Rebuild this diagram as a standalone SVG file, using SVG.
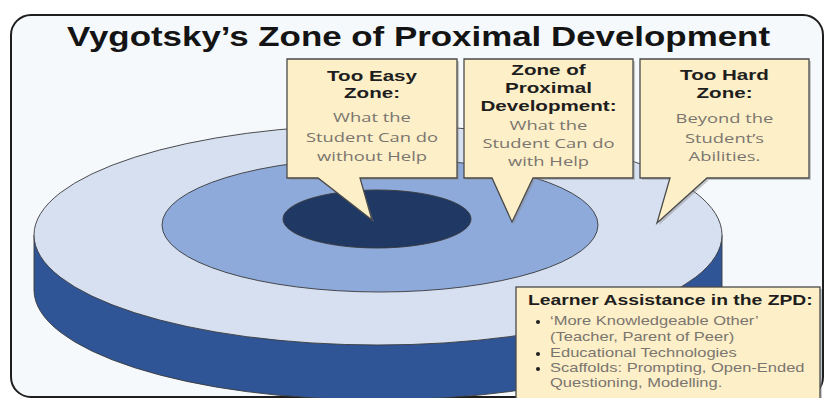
<svg xmlns="http://www.w3.org/2000/svg" width="826" height="398" viewBox="0 0 826 398">
<defs>
<style>
.frame{fill:#f5f9fc;stroke:#1e1e1e;stroke-width:2}
.edge{stroke:#3a3a3a;stroke-width:0.9}
.call{fill:#fdefc7;stroke:#4a4a4a;stroke-width:1.3;stroke-linejoin:miter}
.shadow{fill:#8a8a8a;opacity:0.45}
.ttl{font-family:"Liberation Sans",Arial,sans-serif;font-weight:bold;font-size:28px;fill:#141414}
.hd{font-family:"Liberation Sans",Arial,sans-serif;font-weight:bold;font-size:14.5px;fill:#1e1e1e;text-anchor:middle}
.bd{font-family:"Open Sans","Liberation Sans",sans-serif;font-size:13.5px;fill:#7a7570;text-anchor:middle}
.bhd{font-family:"Liberation Sans",Arial,sans-serif;font-weight:bold;font-size:14px;fill:#1e1e1e}
.bb{font-family:"Liberation Sans",Arial,sans-serif;font-size:12.5px;fill:#7a7570}
</style>
</defs>
<rect class="frame" x="11" y="15" width="812" height="382" rx="20"/>
<g id="disk">
<path class="edge" fill="#2f5597" d="M34 235 L34 290 A344 110 0 0 0 722 290 L722 235 Z"/>
<ellipse id="outer-zone" class="edge" fill="#d7e0f1" cx="378" cy="235" rx="344" ry="110"/>
<ellipse id="middle-zone" class="edge" fill="#8eaadb" cx="380" cy="225" rx="218" ry="67"/>
<ellipse id="inner-zone" class="edge" fill="#1f3864" cx="377" cy="219" rx="94" ry="29"/>
</g>
<g id="callout-easy">
<path class="shadow" d="M289 61 H459 V180 H360 L374 222 L320 180 H289 Z"/>
<path class="call" d="M287 59 H457 V178 H360 L372 220 L318 178 H287 Z"/>
<g transform="translate(372 0) scale(1.42 1)">
<text class="hd" x="0" y="81">Too Easy</text>
<text class="hd" x="0" y="98">Zone:</text>
</g>
<g transform="translate(372 0) scale(1.36 1)">
<text class="bd" x="0" y="122">What the</text>
<text class="bd" x="0" y="142">Student Can do</text>
<text class="bd" x="0" y="161">without Help</text>
</g>
</g>
<g id="callout-zpd">
<path class="shadow" d="M466 61 H635 V180 H535 L514 224 L494 180 H466 Z"/>
<path class="call" d="M464 59 H633 V178 H533 L512 222 L492 178 H464 Z"/>
<g transform="translate(548.5 0) scale(1.42 1)">
<text class="hd" x="0" y="75">Zone of</text>
<text class="hd" x="0" y="93">Proximal</text>
<text class="hd" x="0" y="111">Development:</text>
</g>
<g transform="translate(548.5 0) scale(1.36 1)">
<text class="bd" x="0" y="130">What the</text>
<text class="bd" x="0" y="148">Student Can do</text>
<text class="bd" x="0" y="166">with Help</text>
</g>
</g>
<g id="callout-hard">
<path class="shadow" d="M642 61 H811 V180 H709 L659 225 L672 180 H642 Z"/>
<path class="call" d="M640 59 H809 V178 H707 L657 223 L670 178 H640 Z"/>
<g transform="translate(724.5 0) scale(1.42 1)">
<text class="hd" x="0" y="80">Too Hard</text>
<text class="hd" x="0" y="98">Zone:</text>
</g>
<g transform="translate(724.5 0) scale(1.36 1)">
<text class="bd" x="0" y="123">Beyond the</text>
<text class="bd" x="0" y="143">Student’s</text>
<text class="bd" x="0" y="161">Abilities.</text>
</g>
</g>
<g id="assistance-box">
<rect class="shadow" x="518" y="289" width="304" height="112"/>
<rect class="call" x="516" y="287" width="304" height="112"/>
<g transform="translate(528 0) scale(1.38 1)">
<text class="bhd" x="0" y="305">Learner Assistance in the ZPD:</text>
</g>
<g transform="translate(550 0) scale(1.32 1)">
<text class="bb" x="0" y="325">‘More Knowledgeable Other’</text>
<text class="bb" x="0" y="341">(Teacher, Parent of Peer)</text>
<text class="bb" x="0" y="357">Educational Technologies</text>
<text class="bb" x="0" y="372">Scaffolds: Prompting, Open-Ended</text>
<text class="bb" x="0" y="387">Questioning, Modelling.</text>
</g>
<circle cx="538" cy="322" r="2" fill="#1e1e1e"/>
<circle cx="538" cy="354" r="2" fill="#1e1e1e"/>
<circle cx="538" cy="369" r="2" fill="#1e1e1e"/>
</g>
<text class="ttl" x="67" y="46" textLength="703" lengthAdjust="spacingAndGlyphs">Vygotsky’s Zone of Proximal Development</text>
</svg>
